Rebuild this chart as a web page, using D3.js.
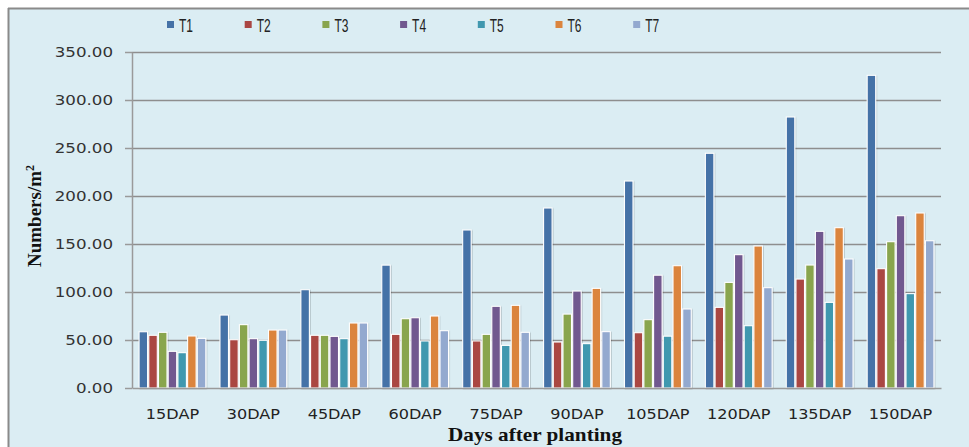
<!DOCTYPE html>
<html>
<head>
<meta charset="utf-8">
<script src="https://cdn.jsdelivr.net/npm/d3@7"></script>
<style>
  html, body { margin: 0; padding: 0; background: #ffffff; }
  svg { display: block; }
</style>
</head>
<body>
<svg id="chart" width="969" height="447"></svg>
<script>
const categories = ["15DAP","30DAP","45DAP","60DAP","75DAP","90DAP","105DAP","120DAP","135DAP","150DAP"];
const seriesNames = ["T1","T2","T3","T4","T5","T6","T7"];
const T1 = [58.6, 76.0, 102.4, 128.0, 164.6, 187.5, 215.6, 244.5, 282.3, 325.7];
const T2 = [54.9, 50.3, 54.9, 55.9, 49.0, 47.9, 57.6, 84.0, 113.5, 124.3];
const T3 = [58.0, 66.0, 54.9, 72.2, 55.9, 77.0, 71.2, 110.0, 128.1, 152.4];
const T4 = [38.2, 51.4, 53.8, 73.2, 85.1, 101.0, 117.5, 138.9, 163.2, 179.5];
const T5 = [36.8, 49.7, 51.4, 49.0, 44.4, 46.2, 54.0, 64.9, 89.2, 98.3];
const T6 = [54.2, 60.4, 67.7, 75.0, 86.1, 103.8, 127.4, 147.9, 167.0, 182.3];
const T7 = [51.7, 60.4, 67.7, 59.7, 58.0, 58.7, 82.3, 104.5, 134.4, 153.4];
const seriesValues = [T1, T2, T3, T4, T5, T6, T7];
const colors = ["#4572A7","#AA4643","#89A54E","#71588F","#4198AF","#DB843D","#93A9CF"];
const yTicks = [0, 50, 100, 150, 200, 250, 300, 350];

(function () {
const svg = d3.select("#chart");

function stretch(sel, k) {
  sel.each(function () {
    const w = this.getComputedTextLength();
    d3.select(this).attr("textLength", w * k).attr("lengthAdjust", "spacingAndGlyphs");
  });
}

// frame background
svg.append("rect").attr("x", 9).attr("y", 9).attr("width", 969).attr("height", 447)
  .attr("fill", "#dbedf3");
svg.append("line").attr("x1", 8).attr("x2", 969).attr("y1", 8.5).attr("y2", 8.5)
  .attr("stroke", "#8a8a8a").attr("stroke-width", 2);
svg.append("line").attr("x1", 8.5).attr("x2", 8.5).attr("y1", 8).attr("y2", 447)
  .attr("stroke", "#8a8a8a").attr("stroke-width", 2);

const pLeft = 132, pRight = 941, pTop = 52, pBottom = 388;

const x = d3.scaleBand().domain(categories).range([pLeft, pRight]).paddingInner(0.16).paddingOuter(0.08);
const xs = d3.scaleBand().domain(seriesNames).range([0, x.bandwidth()]).padding(0);
const y = d3.scaleLinear().domain([0, 350]).range([pBottom, pTop]);

const defs = svg.append("defs");
const f = defs.append("filter").attr("id", "shadow").attr("x", "-30%").attr("y", "-10%").attr("width", "160%").attr("height", "120%");
f.append("feDropShadow").attr("dx", 0.7).attr("dy", 0.7).attr("stdDeviation", 0.7).attr("flood-color", "#000").attr("flood-opacity", 0.22);

// gridlines
const grid = svg.append("g");
grid.selectAll("line").data(yTicks.filter(d => d > 0)).join("line")
  .attr("x1", pLeft).attr("x2", pRight)
  .attr("y1", d => Math.round(y(d)) + 0.5).attr("y2", d => Math.round(y(d)) + 0.5)
  .attr("stroke", "#8e8e8e").attr("stroke-width", 1.5);

// y axis
const yAxis = d3.axisLeft(y).tickValues(yTicks).tickSize(7).tickSizeOuter(0).tickPadding(12)
  .tickFormat(d3.format(".2f"));
const gy = svg.append("g").attr("transform", `translate(${pLeft},0)`).call(yAxis);
gy.select(".domain").attr("stroke", "#9a9a9a").attr("stroke-width", 1.5);
gy.selectAll(".tick line").attr("stroke", "#9a9a9a").attr("stroke-width", 1.5);
gy.selectAll(".tick text").attr("font-family", "DejaVu Sans, Verdana, sans-serif")
  .attr("font-size", 14).attr("fill", "#333").call(stretch, 1.19);

// bars
const groups = svg.append("g").selectAll("g").data(categories).join("g")
  .attr("transform", d => `translate(${x(d)},0)`);
groups.selectAll("rect").data((d, i) => seriesNames.map((s, j) => ({s, v: seriesValues[j][i], c: colors[j]})))
  .join("rect")
  .attr("x", d => xs(d.s) + 0.6)
  .attr("width", xs.bandwidth() - 1.2)
  .attr("y", d => y(d.v))
  .attr("height", d => pBottom - y(d.v))
  .attr("fill", d => d.c)
  .attr("stroke", "#ffffff").attr("stroke-width", 1.1)
  .attr("filter", "url(#shadow)");

// x axis
const xAxis = d3.axisBottom(x).tickSize(0).tickPadding(21);
const gx = svg.append("g").attr("transform", `translate(0,${pBottom})`).call(xAxis);
gx.select(".domain").attr("stroke", "#9a9a9a").attr("stroke-width", 1.5);
gx.selectAll(".tick text").attr("font-family", "DejaVu Sans, Verdana, sans-serif")
  .attr("font-size", 13.5).attr("fill", "#222").call(stretch, 1.19);

// axis titles
svg.append("text").attr("x", 535).attr("y", 441).attr("text-anchor", "middle")
  .attr("font-family", "Liberation Serif, Times New Roman, serif").attr("font-weight", "bold")
  .attr("font-size", 19).attr("fill", "#111").text("Days after planting")
  .attr("textLength", 174).attr("lengthAdjust", "spacingAndGlyphs");

const yt = svg.append("text").attr("transform", "translate(41,216) rotate(-90)").attr("text-anchor", "middle")
  .attr("font-family", "Liberation Serif, Times New Roman, serif").attr("font-weight", "bold")
  .attr("font-size", 19).attr("fill", "#111");
yt.append("tspan").text("Numbers/m");
yt.append("tspan").attr("font-size", 12).attr("dy", -7).text("2");

// legend
const legend = svg.append("g").selectAll("g").data(seriesNames).join("g")
  .attr("transform", (d, i) => `translate(${167 + i * 77.7},0)`);
legend.append("rect").attr("x", 0).attr("y", 21).attr("width", 7).attr("height", 7)
  .attr("fill", (d, i) => colors[i]);
legend.append("text").attr("x", 12).attr("y", 31.5)
  .attr("font-family", "Liberation Sans Narrow, Liberation Sans, Arial, sans-serif")
  .attr("font-size", 18).attr("fill", "#222").text(d => d)
  .attr("textLength", 14).attr("lengthAdjust", "spacingAndGlyphs");
})();
</script>
</body>
</html>
